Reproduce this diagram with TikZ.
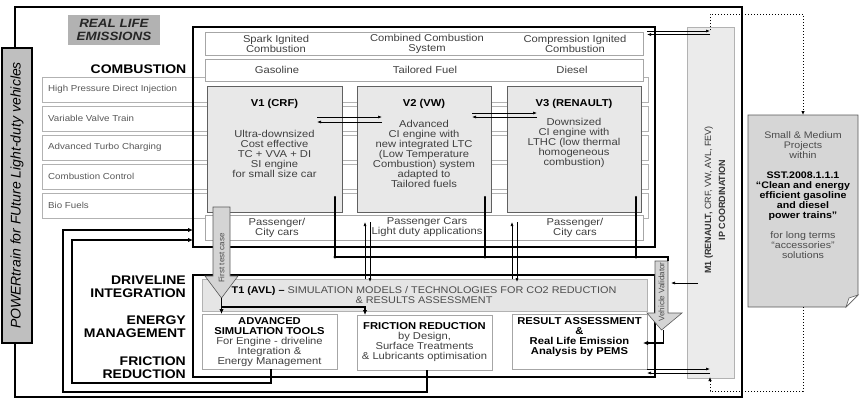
\documentclass[tikz,border=0pt]{standalone}
\usepackage{fontspec}
\setmainfont{Liberation Sans}[FakeStretch=1.12]
\newfontfamily\rotfont{Liberation Sans}
\usetikzlibrary{arrows.meta,calc}
\newcommand\fsz[2]{\fontsize{#1}{#2}\selectfont}
\tikzset{
  bigframe/.style={draw=black, line width=1.6pt, inner sep=0, outer sep=0, anchor=north west},
  strip/.style={draw=gray!60, fill=white, line width=0.7pt, inner sep=0, outer sep=0, anchor=north west},
  wbox/.style={draw=gray!70, fill=white, line width=0.8pt, inner sep=0, outer sep=0, anchor=north west},
  vbox/.style={draw=gray!75!black, fill=black!9, line width=0.8pt, inner sep=0, outer sep=0, anchor=north west},
  lbl/.style={font=\fsz{10}{10}, text=black!75, align=center, inner sep=0},
  blbl/.style={font=\bfseries\fsz{10}{10}, text=black, align=center, inner sep=0},
  sidelbl/.style={font=\bfseries\fsz{12.5}{13}, align=right, anchor=east, inner sep=0},
  striptext/.style={font=\fsz{8.7}{9}, text=black!65, anchor=west, inner sep=0},
  rottext/.style={font=\rotfont\fsz{8}{8}, text=black!70, rotate=90, inner sep=0},
  arrowshape/.style={fill=black!17, draw=gray!70!black, line width=0.6pt},
  conn/.style={line width=1.3pt, draw=black},
  arrowend/.style={-{Latex[length=5pt,width=4.5pt]}},
  thinarr/.style={line width=0.6pt, -{Latex[length=4pt,width=3pt]}},
  dotconn/.style={dotted, line width=1pt, -{Latex[length=4pt,width=3.5pt]}},
}
\begin{document}
\begin{tikzpicture}[x=1pt,y=-1pt]
\useasboundingbox (0,0) rectangle (860,400);

% outer frame
\node[draw=black, line width=1.3pt, inner sep=0, outer sep=0, anchor=north west,
      minimum width=727, minimum height=390] (outer) at (15,7) {};

% POWERtrain vertical box
\node[draw=black, line width=1.2pt, fill=black!25, inner sep=0, outer sep=0, anchor=north west,
      minimum width=30, minimum height=295] (pt) at (2,48) {};
\node[rotate=90, font=\rotfont\itshape\fsz{14}{14}, inner sep=0] (ptt) at (pt.center)
  {POWERtrain for FUture Light-duty vehicles};

% REAL LIFE EMISSIONS
\node[fill=black!30, inner sep=0, outer sep=0, anchor=north west,
      minimum width=92, minimum height=30] (rle) at (68,15) {};
\node[font=\bfseries\itshape\fsz{12}{12.5}, align=center, inner sep=0, text=black!85] (rlet) at (rle.center)
  {REAL LIFE\\EMISSIONS};

\node[font=\bfseries\fsz{12.5}{13}, inner sep=0] (combl) at (138.5,69) {COMBUSTION};

% strips
\foreach \y/\t [count=\i] in {77/High Pressure Direct Injection, 106/Variable Valve Train,
   135/Advanced Turbo Charging, 164/Combustion Control, 193/Bio Fuels} {
  \node[strip, minimum width=606, minimum height=25] (row\i) at (42,\y) {};
  \node[striptext] (rowt\i) at ([xshift=6pt]row\i.west) {\t};
}

% combustion frame
\node[bigframe, minimum width=462, minimum height=220] (comb) at (193,27) {};

% headers
\node[wbox, minimum width=438, minimum height=23] (hdr1) at (205,32) {};
\node[lbl] (h11) at (276,43.5) {Spark Ignited\\Combustion};
\node[lbl] (h12) at (427,43.5) {Combined Combustion\\System};
\node[lbl] (h13) at (575,43.5) {Compression Ignited\\Combustion};
\node[wbox, minimum width=438, minimum height=22] (hdr2) at (205,59) {};
\node[lbl] (h21) at (277,70) {Gasoline};
\node[lbl] (h22) at (425,70) {Tailored Fuel};
\node[lbl] (h23) at (572,70) {Diesel};

% V boxes
\node[vbox, minimum width=135, minimum height=126] (v1) at (207,86) {};
\node[vbox, minimum width=134, minimum height=126] (v2) at (357,86) {};
\node[vbox, minimum width=134, minimum height=126] (v3) at (507,86) {};
\node[blbl] (v1t) at (274.5,104) {V1 (CRF)};
\node[blbl] (v2t) at (424,104) {V2 (VW)};
\node[blbl] (v3t) at (574,104) {V3 (RENAULT)};
\node[lbl] (v1b) at (274.5,154) {Ultra-downsized\\Cost effective\\TC + VVA + DI\\SI engine\\for small size car};
\node[lbl] (v2b) at (424,154) {Advanced\\CI engine with\\new integrated LTC\\(Low Temperature\\Combustion) system\\adapted to\\Tailored fuels};
\node[lbl] (v3b) at (574,143) {Downsized\\CI engine with\\LTHC (low thermal\\homogeneous\\combustion)};

% passenger row
\node[wbox, minimum width=438, minimum height=25] (pass) at (205,215) {};
\node[lbl] (p1) at (277,228) {Passenger/\\City cars};
\node[lbl] (p2) at (427,227.5) {Passenger Cars\\Light duty applications};
\node[lbl] (p3) at (575,228) {Passenger/\\City cars};

% arrows between V boxes
\draw[thinarr] ([shift={(-25,-32)}]v1.east) -- ([shift={(25,-32)}]v2.west);
\draw[thinarr] ([shift={(25,-27)}]v2.west) -- ([shift={(-25,-27)}]v1.east);
\draw[thinarr] ([shift={(-19,-36)}]v2.east) -- ([shift={(30,-36)}]v3.west);
\draw[thinarr] ([shift={(30,-32)}]v3.west) -- ([shift={(-19,-32)}]v2.east);

% lower frame
\node[bigframe, minimum width=462, minimum height=102] (lowf) at (193,275) {};
\node[vbox, fill=black!10, draw=gray!60, minimum width=445, minimum height=32] (t1) at (202,279) {};
\node[font=\fsz{9.7}{10}, text=black!70, align=center, inner sep=0] (t1t) at (424,295)
  {\textbf{\color{black}T1 (AVL) –} SIMULATION MODELS / TECHNOLOGIES FOR CO2 REDUCTION\\\& RESULTS ASSESSMENT};

\node[wbox, minimum width=135, minimum height=55] (adv) at (202,314) {};
\node[wbox, minimum width=135, minimum height=55] (fric) at (357,315) {};
\node[wbox, minimum width=135, minimum height=55] (res) at (512,314) {};
\node[lbl] (advt) at (269.5,342) {\textbf{\color{black}ADVANCED}\\\textbf{\color{black}SIMULATION TOOLS}\\For Engine - driveline\\Integration \&\\Energy Management};
\node[lbl] (frict) at (424.5,342) {\textbf{\color{black}FRICTION REDUCTION}\\by Design,\\Surface Treatments\\\& Lubricants optimisation};
\node[blbl] (rest) at (579.5,337) {RESULT ASSESSMENT\\\&\\Real Life Emission\\Analysis by PEMS};

% side labels
\node[sidelbl] (s1) at (186,286.5) {DRIVELINE\\INTEGRATION};
\node[sidelbl] (s2) at (186,327) {ENERGY\\MANAGEMENT};
\node[sidelbl] (s3) at (186,367.5) {FRICTION\\REDUCTION};

% M1 box
\node[vbox, fill=black!8, draw=gray!60, minimum width=47, minimum height=351] (m1) at (687,27) {};
\node[rotate=90, font=\rotfont\fsz{9}{14}, align=center, inner sep=0, text=black!80] (m1t) at (715,200)
  {\textbf{M1 (RENAULT,} CRF, VW, AVL, FEV)\\\textbf{IP COORDINATION}};

% SST note box
\node[inner sep=0, outer sep=0, anchor=north west, minimum width=110, minimum height=192] (sst) at (748,115) {};
\draw[fill=black!16, draw=gray!70!black, line width=0.7pt]
  (sst.north west) -- (sst.north east) -- ([yshift=12pt]sst.south east)
  -- ([xshift=-12pt]sst.south east) -- (sst.south west) -- cycle;
\draw[fill=white, draw=gray!70!black, line width=0.6pt]
  ([yshift=12pt]sst.south east) -- ([xshift=-12pt]sst.south east) -- ([shift={(-9,-9)}]sst.south east) -- cycle;
\node[font=\fsz{9.5}{10}, text=black!70, align=center, inner sep=0] (sstt) at (803,195)
  {Small \& Medium\\Projects\\within\\[10pt]
   \textbf{\color{black}SST.2008.1.1.1}\\\textbf{\color{black}“Clean and energy}\\\textbf{\color{black}efficient gasoline}\\
   \textbf{\color{black}and diesel}\\\textbf{\color{black}power trains”}\\[10pt]
   for long terms\\“accessories”\\solutions};

% First test case arrow
\draw[arrowshape] (213,207) -- (230,207) -- (230,276) -- (238,276) -- (221.5,298) -- (205,276) -- (213,276) -- cycle;
\coordinate (ftc) at (221.5,298);
\node[rottext] (ftct) at (221.5,258) {First test case};

% Vehicle Validator arrow
\draw[arrowshape] (655,261) -- (668,261) -- (668,313) -- (682,313) -- (661.5,330) -- (647,313) -- (655,313) -- cycle;
\coordinate (vvtip) at (663.5,330);
\coordinate (vvne) at (668,261);
\node[rottext] (vvt) at (661.5,292) {Vehicle Validator};

% V outputs to bus
\coordinate (bus) at (668,257);
\draw[conn] ([shift={(-7,-15)}]v1.south east) coordinate (o1) -- (o1 |- bus) -- (bus) -- (vvne);
\draw[conn] ([shift={(-6,-15)}]v2.south east) coordinate (o2) -- (o2 |- bus);
\draw[conn] ([shift={(-5,-15)}]v3.south east) coordinate (o3) -- (o3 |- bus);
\foreach \o in {o1,o2,o3} \fill (\o |- bus) circle (1.7pt);
\foreach \o in {o1,o2,o3} \fill (\o) circle (1.2pt);

% passenger <-> T1
\draw[thinarr] (t1.north -| 365,0) -- (365,222);
\draw[thinarr] (370,222) -- (370,282);
\draw[thinarr] (t1.north -| 512,0) -- (512,222);
\draw[thinarr] (517,222) -- (517,282);

% first test case to boxes
\draw[conn, arrowend] (ftc) -- (adv.north -| ftc);
\draw[conn, arrowend] (ftc |- 0,307) -- (365,307) -- (fric.north -| 365,0);

% validator to result
\draw[conn, arrowend] (vvtip) -- (663.5,343) -- ([xshift=-4pt]res.east |- 0,343);

% M1 to validator
\draw[thinarr] (698,283) -- (671,283);

% left feedback loops
\draw[conn, arrowend] ([xshift=1.5pt]adv.south) -- ++(0,14) -- (72,383) -- (72,240) -- (comb.west |- 0,240);
\draw[conn, arrowend] ([xshift=2.5pt]fric.south) -- ++(0,22) -- (63,392) -- (63,230) -- (comb.west |- 0,230);

% M1 <-> frames
\draw[thinarr] (647,31) -- (710,31);
\draw[thinarr] (710,34.5) -- (647,34.5);
\draw[thinarr] (647,369) -- (710,369);
\draw[thinarr] (710,373) -- (647,373);

% dotted links with SST
\draw[dotconn] (710,30) -- (710,14) -- (803,14) -- (sst.north);
\draw[dotconn] (sst.south) -- (803,391) -- (710,391) -- (710,377);
\end{tikzpicture}
\end{document}
